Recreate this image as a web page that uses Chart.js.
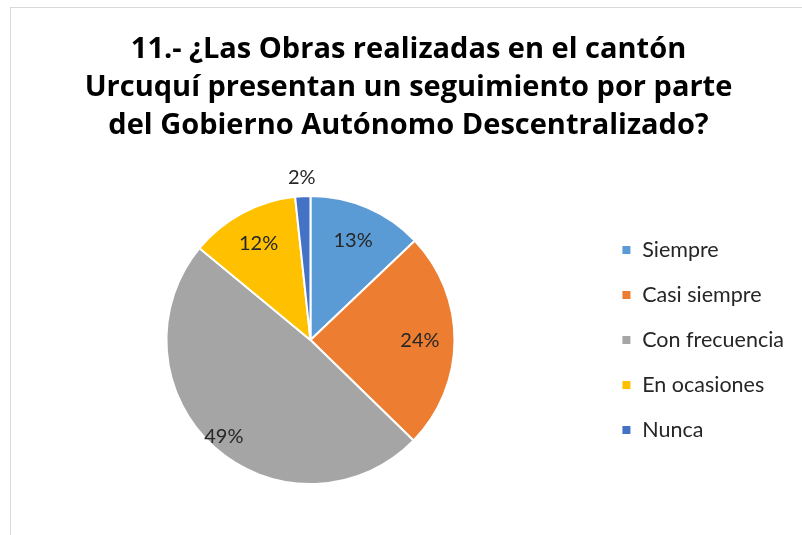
<!DOCTYPE html>
<html>
<head>
<meta charset="utf-8">
<script src="https://cdn.jsdelivr.net/npm/chart.js@4"></script>
<style>
  body { margin: 0; background: #fff; overflow: hidden; }
  #marco {
    position: absolute; left: 10px; top: 7px; width: 800px; height: 528px;
    border-left: 1px solid #d9d9d9; border-top: 1px solid #d9d9d9;
  }
  #grafico { display: block; }
</style>
</head>
<body>
<div id="marco"><canvas id="grafico" width="800" height="527"></canvas></div>
<script>
// Datos de la pregunta 11 (porcentajes)
const categorias = ["Siempre", "Casi siempre", "Con frecuencia", "En ocasiones", "Nunca"];
const porcentajes = [12.9, 24.4, 48.7, 12.3, 1.7];
const colores = ["#5B9BD5", "#ED7D31", "#A5A5A5", "#FFC000", "#4472C4"];
const titulo = [
  "11.- ¿Las Obras realizadas en el cantón",
  "Urcuquí presentan un seguimiento por parte",
  "del Gobierno Autónomo Descentralizado?"
];

// Etiquetas de porcentaje sobre cada sector (estilo "ajuste perfecto" de Excel)
const etiquetasPlugin = {
  id: "etiquetas",
  afterDatasetsDraw(chart, args, opts) {
    const ctx = chart.ctx;
    const meta = chart.getDatasetMeta(0);
    ctx.save();
    ctx.font = "20px Lato";
    ctx.fillStyle = "#262626";
    ctx.textAlign = "center";
    ctx.textBaseline = "middle";
    meta.data.forEach((arco, i) => {
      const angulo = (arco.startAngle + arco.endAngle) / 2;
      const r = arco.outerRadius * opts.radios[i];
      const x = arco.x + Math.cos(angulo) * r;
      const y = arco.y + Math.sin(angulo) * r;
      ctx.fillText(Math.round(chart.data.datasets[0].data[i]) + "%", x, y);
    });
    ctx.restore();
  }
};

new Chart(document.getElementById("grafico"), {
  type: "pie",
  data: {
    labels: categorias,
    datasets: [{
      data: porcentajes,
      backgroundColor: colores,
      borderColor: "#ffffff",
      borderWidth: 2
    }]
  },
  options: {
    responsive: false,
    animation: false,
    layout: { padding: { left: 12, right: 17, top: 0, bottom: 50 } },
    plugins: {
      title: {
        display: true,
        text: titulo,
        color: "#000000",
        font: { family: "Open Sans", weight: "bold", size: 29, lineHeight: 1.31 },
        padding: { top: 23, bottom: 50 }
      },
      legend: {
        position: "right",
        fullSize: false,
        labels: {
          boxWidth: 10,
          boxHeight: 10,
          padding: 23.5,
          color: "#262626",
          font: { family: "Lato", size: 21.5 }
        }
      },
      tooltip: { enabled: false },
      etiquetas: { radios: [0.75, 0.76, 0.9, 0.76, 1.13] }
    }
  },
  plugins: [etiquetasPlugin]
});
</script>
</body>
</html>
